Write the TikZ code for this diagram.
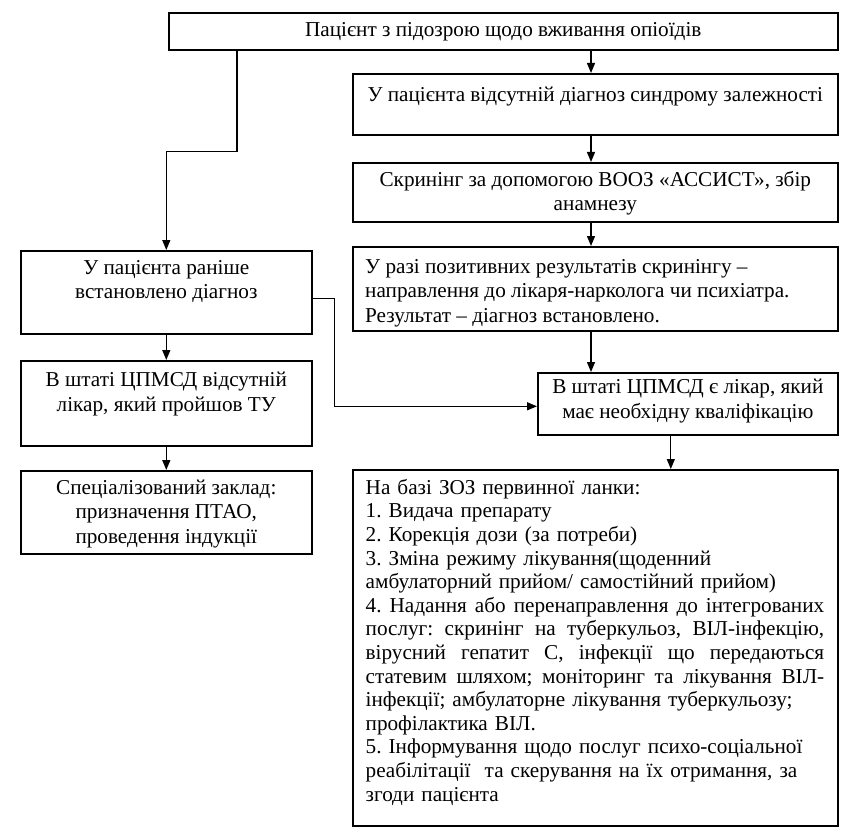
\documentclass[tikz,border=0pt]{standalone}
\usepackage{fontspec}
\setmainfont{Liberation Serif}
\usetikzlibrary{arrows.meta,calc}
\frenchspacing
\newcommand\justline[1]{\leavevmode\hbox to 458.5pt{\spaceskip=0.25em plus 1fil\relax #1}}
\begin{document}
\begin{tikzpicture}[x=1pt,y=-1pt,
  box/.style={draw, line width=1.6pt, inner sep=0pt, anchor=north west},
  txt/.style={inner sep=0pt, font=\fontsize{21.2}{24.4}\selectfont, align=center, anchor=north},
  arr/.style={-{Triangle[length=10pt,width=8pt]}, line width=1.3pt}]
\useasboundingbox (0,0) rectangle (850,837);
% boxes
\node[box, minimum width=669pt, minimum height=37pt] (A) at (168,12) {};
\node[box, minimum width=485pt, minimum height=61pt] (B) at (352,73) {};
\node[box, minimum width=485pt, minimum height=59pt] (C) at (352,162) {};
\node[box, minimum width=485pt, minimum height=84pt] (D) at (352,246) {};
\node[box, minimum width=300pt, minimum height=62pt] (E) at (537,372) {};
\node[box, minimum width=485pt, minimum height=356pt] (F) at (352,469) {};
\node[box, minimum width=291pt, minimum height=83pt] (G) at (20,250) {};
\node[box, minimum width=291pt, minimum height=85pt] (H) at (20,360) {};
\node[box, minimum width=291pt, minimum height=83pt] (I) at (20,470) {};
% texts
\node[txt] (At) at ($(A.north)+(0,7)$) {\strut Пацієнт з підозрою щодо вживання опіоїдів};
\node[txt] (Bt) at ($(B.north)+(0,11)$) {\strut У пацієнта відсутній діагноз синдрому залежності};
\node[txt] (Ct) at ($(C.north)+(0,7.3)$) {\strut Скринінг за допомогою ВООЗ «АССИСТ», збір\\анамнезу};
\node[txt, anchor=north west, align=left] (Dt) at ($(D.north west)+(13,10)$) {\strut У разі позитивних результатів скринінгу –\\направлення до лікаря-нарколога чи психіатра.\\Результат – діагноз встановлено.};
\node[txt] (Et) at ($(E.north)+(0,4.5)$) {\strut В штаті ЦПМСД є лікар, який\\має необхідну кваліфікацію};
\node[txt] (Gt) at ($(G.north)+(0,7.3)$) {\strut У пацієнта раніше\\встановлено діагноз};
\node[txt] (Ht) at ($(H.north)+(0,9.4)$) {\strut В штаті ЦПМСД відсутній\\лікар, який пройшов ТУ};
\node[txt] (It) at ($(I.north)+(0,7.3)$) {\strut Спеціалізований заклад:\\призначення ПТАО,\\проведення індукції};
\node[txt, anchor=north west, align=left, text width=460pt, font=\fontsize{21.2}{23.6}\selectfont] (Ft) at ($(F.north west)+(13.5,8.5)$) {\strut На базі ЗОЗ первинної ланки:\\
1. Видача препарату\\
2. Корекція дози (за потреби)\\
3. Зміна режиму лікування(щоденний\\
амбулаторний прийом/ самостійний прийом)\\
\justline{4. Надання або перенаправлення до інтегрованих}\\
\justline{послуг: скринінг на туберкульоз, ВІЛ-інфекцію,}\\
\justline{вірусний гепатит С, інфекції що передаються}\\
\justline{статевим шляхом; моніторинг та лікування ВІЛ-}\\
інфекції; амбулаторне лікування туберкульозу;\\
профілактика ВІЛ.\\
5. Інформування щодо послуг психо-соціальної\\
реабілітації\ \ та скерування на їх отримання, за\\
згоди пацієнта};
% connectors
\coordinate (ax) at (591,0);
\draw[arr] (A.south -| ax) -- (B.north -| ax);
\draw[arr] (B.south -| ax) -- (C.north -| ax);
\draw[arr] (C.south -| ax) -- (D.north -| ax);
\draw[arr] (D.south -| ax) -- (E.north -| ax);
\draw[arr] ([xshift=-17pt]E.south) -- ([xshift=-17pt]E.south |- F.north);
\draw[arr] ([xshift=69pt]A.south west) -- ++(0,101) -| (G.north);
\draw[arr] (G.south) -- (H.north);
\draw[arr] (H.south) -- (I.north);
\draw[arr] ([yshift=-6.5pt]G.east) -- ++(22,0) |- ([yshift=-2.5pt]E.west);
\end{tikzpicture}
\end{document}
